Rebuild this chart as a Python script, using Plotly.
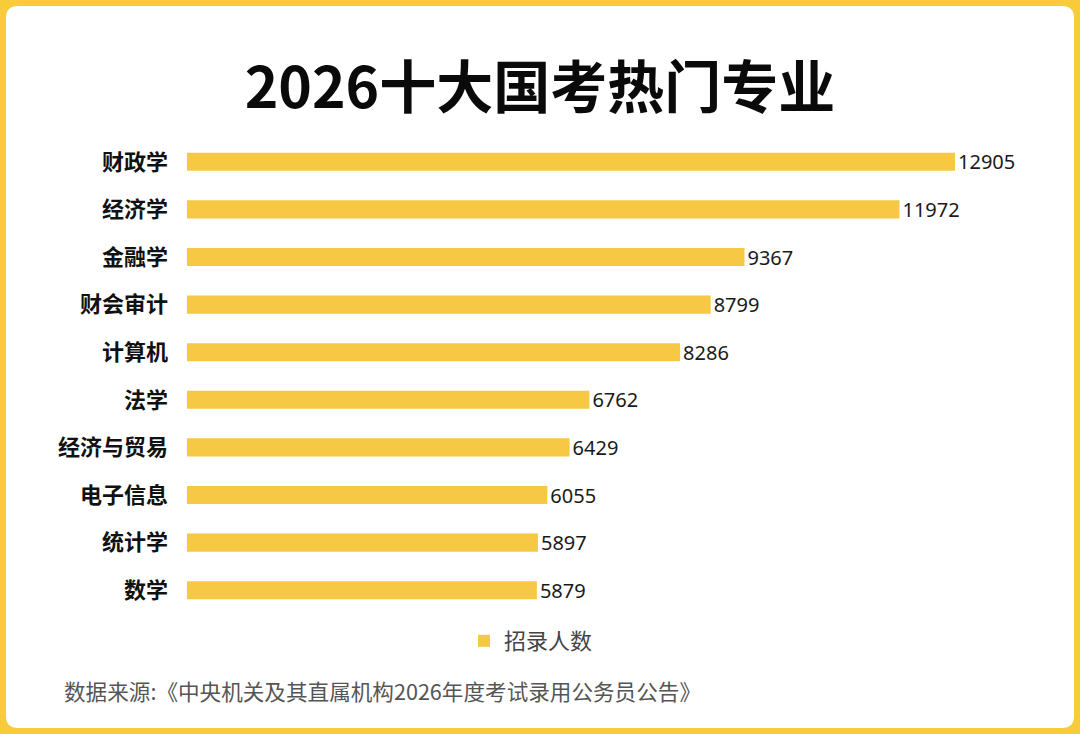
import plotly.graph_objects as go

W, H = 1080, 734

majors = ['财政学', '经济学', '金融学', '财会审计', '计算机',
          '法学', '经济与贸易', '电子信息', '统计学', '数学']
counts = [12905, 11972, 9367, 8799, 8286, 6762, 6429, 6055, 5897, 5879]

title_text = '2026十大国考热门专业'
legend_name = '招录人数'
source_text = '数据来源:《中央机关及其直属机构2026年度考试录用公务员公告》'

bar_color = '#F6C843'
border_color = '#F8CB3A'

ml, mr, mt, mb = 187, 40, 138, 120
pw, ph = W - ml - mr, H - mt - mb


def px_x(x):
    return (x - ml) / pw


def px_y(y):
    return 1 - (y - mt) / ph


def rounded_box(x0, y0, x1, y1, r):
    # rounded rectangle path in paper units, from pixel corners
    pts = [
        f'M {px_x(x0 + r)} {px_y(y0)}',
        f'L {px_x(x1 - r)} {px_y(y0)}',
        f'Q {px_x(x1)} {px_y(y0)} {px_x(x1)} {px_y(y0 + r)}',
        f'L {px_x(x1)} {px_y(y1 - r)}',
        f'Q {px_x(x1)} {px_y(y1)} {px_x(x1 - r)} {px_y(y1)}',
        f'L {px_x(x0 + r)} {px_y(y1)}',
        f'Q {px_x(x0)} {px_y(y1)} {px_x(x0)} {px_y(y1 - r)}',
        f'L {px_x(x0)} {px_y(y0 + r)}',
        f'Q {px_x(x0)} {px_y(y0)} {px_x(x0 + r)} {px_y(y0)}',
        'Z',
    ]
    return ' '.join(pts)


fig = go.Figure()
fig.add_trace(go.Bar(
    x=counts, y=majors, orientation='h',
    name=legend_name,
    marker=dict(color=bar_color, line=dict(width=0)),
    text=[str(c) for c in counts],
    textposition='outside',
    constraintext='none',
    textfont=dict(size=20, color='#1a1a1a', family='Noto Sans, Open Sans, sans-serif'),
    cliponaxis=False,
    showlegend=True,
))

fig.update_layout(
    width=W, height=H,
    margin=dict(l=ml, r=mr, t=mt, b=mb),
    paper_bgcolor=border_color,
    plot_bgcolor='rgba(0,0,0,0)',
    font=dict(family='Noto Sans CJK SC, Noto Sans, sans-serif'),
    bargap=0.62,
    title=dict(
        text=title_text, x=0.5, xref='container', xanchor='center',
        y=1 - 88 / H, yanchor='middle',
        font=dict(size=57, color='#0a0a0a', weight='bold',
                  family='Noto Sans CJK SC, sans-serif'),
    ),
    xaxis=dict(range=[0, pw / (768 / 12905)], visible=False, fixedrange=True),
    yaxis=dict(
        autorange='reversed', showgrid=False, zeroline=False, showline=False,
        ticks='', ticklabelstandoff=18, fixedrange=True,
        tickfont=dict(size=22, color='#111111', weight='bold',
                      family='Noto Sans CJK SC, sans-serif'),
    ),
    legend=dict(
        orientation='h', x=px_x(531), xanchor='center',
        y=px_y(641), yanchor='middle',
        font=dict(size=22, color='#444444'),
        bgcolor='rgba(0,0,0,0)', itemwidth=30,
    ),
    shapes=[dict(
        type='path', xref='paper', yref='paper', layer='below',
        path=rounded_box(6, 6, 1074, 728, 12),
        fillcolor='white', line=dict(width=0),
    )],
    annotations=[dict(
        text=source_text, xref='paper', yref='paper',
        x=px_x(62), y=px_y(690), xanchor='left', yanchor='middle',
        showarrow=False, font=dict(size=21.6, color='#555555'),
    )],
)

fig.write_html('out.html', config={'displayModeBar': False},
               post_script="document.body.style.margin='0';")
